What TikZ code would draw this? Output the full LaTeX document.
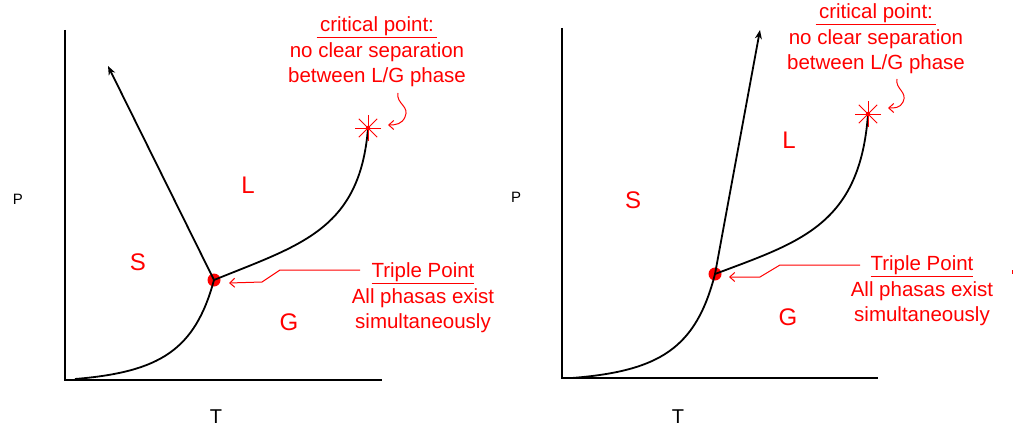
\documentclass[tikz,border=0pt]{standalone}
\usepackage{fontspec}
\setmainfont{Liberation Sans}
\usetikzlibrary{arrows.meta}

\begin{document}
\begin{tikzpicture}[x=1pt, y=-1pt,
    axis/.style={line width=2pt, black},
    phaseline/.style={line width=1.8pt, black},
    meltline/.style={phaseline, -{Stealth[length=9pt, width=7pt]}},
    region/.style={text=red, font=\fontsize{24}{28}\selectfont},
    note/.style={text=red, align=center, inner sep=0pt, font=\fontsize{20.5}{25.5}\selectfont},
    pointer/.style={red, line width=1pt, -{Straight Barb[length=5pt, width=9pt]}},
    tripledot/.style={circle, fill=red, inner sep=0pt, minimum size=13pt},
    axislabel/.style={inner sep=0pt},
]
\useasboundingbox (0,0) rectangle (1015,428);

% ---------------- left diagram ----------------
\coordinate (originL) at (65,380);
\coordinate (ytopL) at (65,30);
\coordinate (xendL) at (382,380);
\draw[axis] (ytopL) -- (originL) -- (xendL);
\node[axislabel, font=\fontsize{15}{18}\selectfont] (pL) at (18,199) {P};
\node[axislabel, font=\fontsize{20}{24}\selectfont] (tL) at (216,417) {T};

\node[tripledot] (tripL) at (214,280) {};
\coordinate (critL) at (368,128);
\coordinate (meltL) at (108,66);
\coordinate (lowL) at (75,379);

\draw[phaseline] (lowL) .. controls (160,372) and (195,350) .. (tripL.center);
\draw[phaseline] (tripL.center) .. controls (300,245) and (360,230) .. (critL);
\draw[meltline] (tripL.center) -- (meltL);

\foreach \a in {0,45,90,135}
  \draw[red, line width=1pt] (critL) ++(\a:13) -- ++(\a+180:26);
\fill[red] (critL) circle (2.2);

\node[region] (sL) at (138,262) {S};
\node[region] (lL) at (248,185) {L};
\node[region] (gL) at (289,322) {G};

\node[note] (critnoteL) at (377,52)
    {\underline{\,critical point:\,}\\no clear separation\\between L/G phase};
\draw[pointer] (398,93) .. controls (396,104) and (410,106) .. (405,117)
    .. controls (402,124) and (396,125) .. (388,125);

\node[note] (tripnoteL) at (423,298)
    {\underline{Triple Point}\\All phasas exist\\simultaneously};
\coordinate (leadL) at (360,270);
\draw[pointer] (leadL) -- (280,270) -- (262,282) -- (229,283);

% ---------------- right diagram ----------------
\coordinate (originR) at (562,378);
\coordinate (ytopR) at (562,28);
\coordinate (xendR) at (878,378);
\draw[axis] (ytopR) -- (originR) -- (xendR);
\node[axislabel, font=\fontsize{15}{18}\selectfont] (pR) at (516,197) {P};
\node[axislabel, font=\fontsize{20}{24}\selectfont] (tR) at (678,417) {T};

\node[tripledot] (tripR) at (715,274) {};
\coordinate (critR) at (868,114);
\coordinate (meltR) at (760,30);
\coordinate (lowR) at (572,378);

\draw[phaseline] (lowR) .. controls (660,371) and (696,348) .. (tripR.center);
\draw[phaseline] (tripR.center) .. controls (800,242) and (860,225) .. (critR);
\draw[meltline] (tripR.center) -- (meltR);

\foreach \a in {0,45,90,135}
  \draw[red, line width=1pt] (critR) ++(\a:13) -- ++(\a+180:26);
\fill[red] (critR) circle (2.2);

\node[region] (sR) at (633,200) {S};
\node[region] (lR) at (789,140) {L};
\node[region] (gR) at (788,317) {G};

\node[note] (critnoteR) at (876,39)
    {\underline{\,critical point:\,}\\no clear separation\\between L/G phase};
\draw[pointer] (897,79) .. controls (895,89) and (908,92) .. (903,102)
    .. controls (900,108) and (895,108) .. (888,108);

\node[note] (tripnoteR) at (922,291)
    {\underline{Triple Point}\\All phasas exist\\simultaneously};
\coordinate (leadR) at (860,265);
\draw[pointer] (leadR) -- (780,265) -- (760,277) -- (729,277);

\draw[red, line width=1pt] (1012,270) -- (1012,274);
\end{tikzpicture}
\end{document}
